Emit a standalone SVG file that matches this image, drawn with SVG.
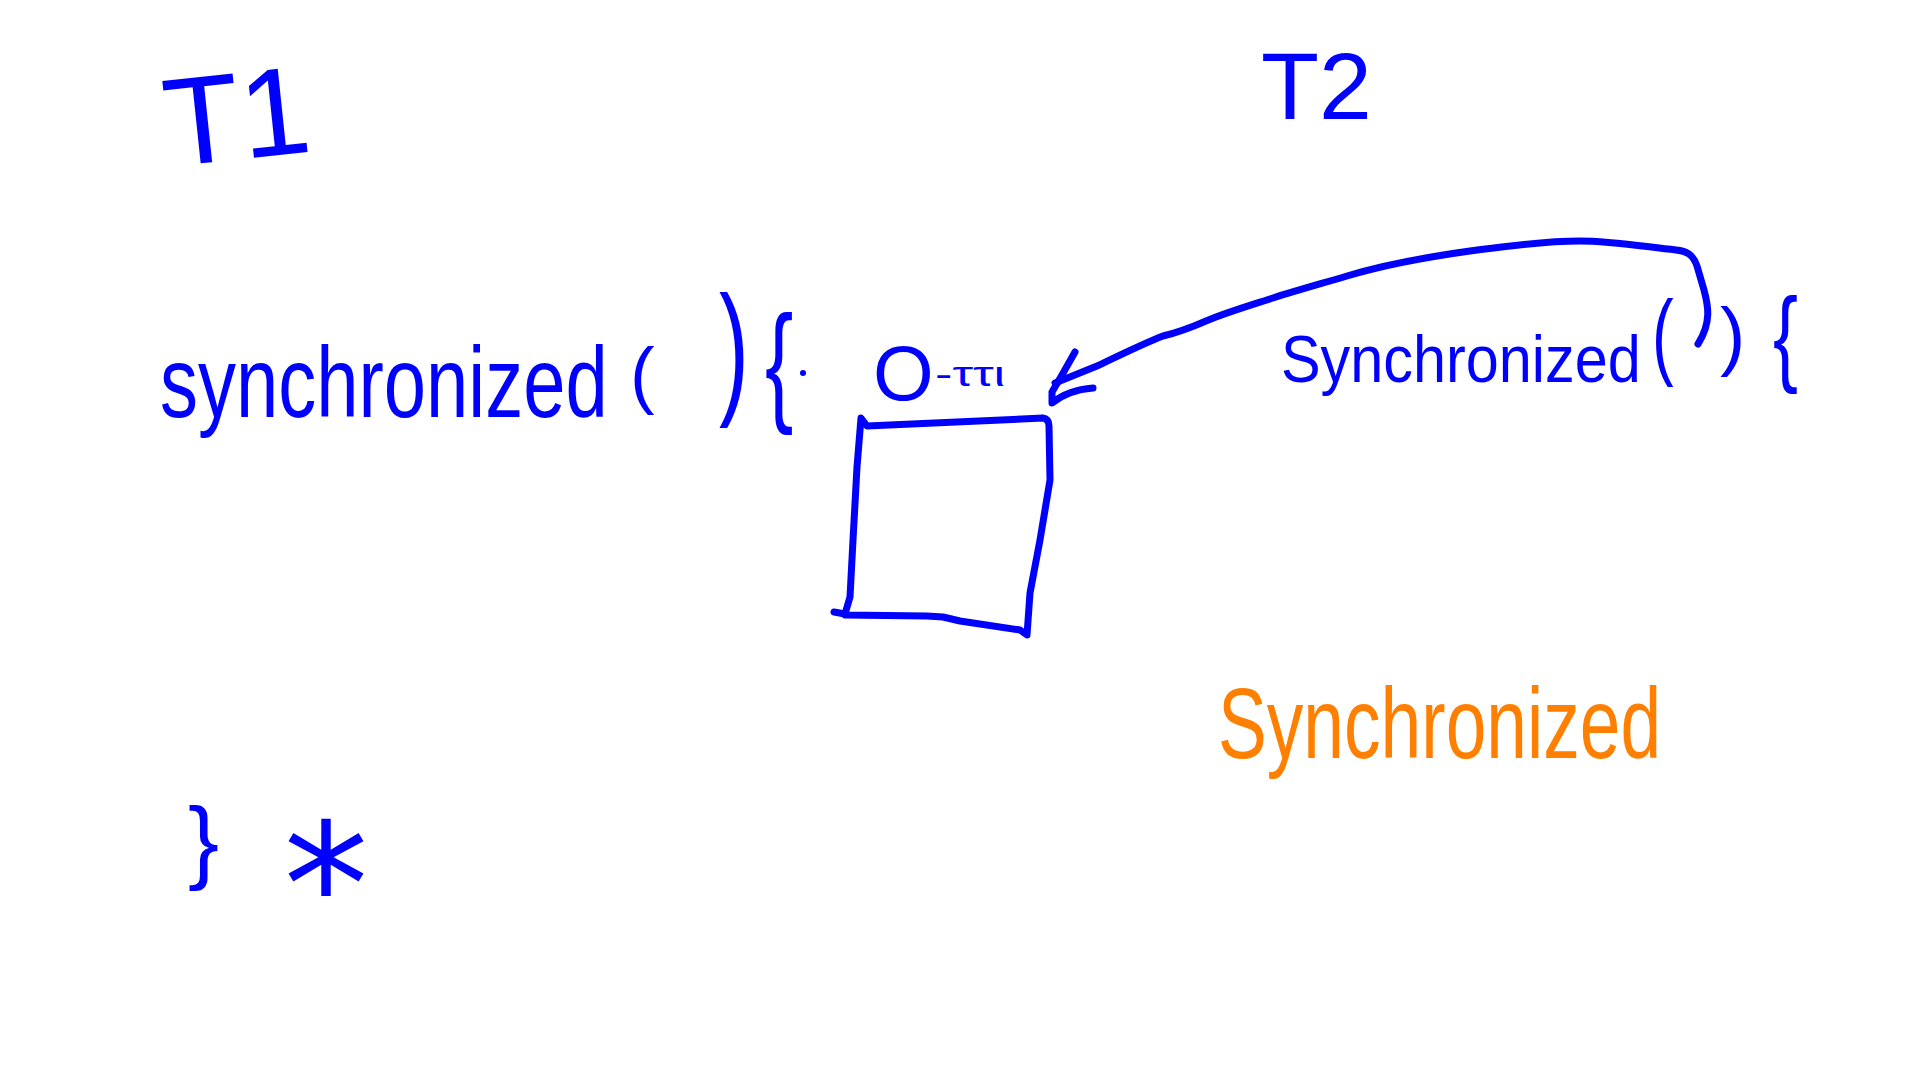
<svg xmlns="http://www.w3.org/2000/svg" width="1920" height="1080" viewBox="0 0 1920 1080">
<style>
  .ink { fill: #0000FF; font-family: "Liberation Sans", "DejaVu Sans", sans-serif; }
  .orange { fill: #FF8000; font-family: "Liberation Sans", "DejaVu Sans", sans-serif; }
  .stroke { fill: none; stroke: #0000FF; stroke-width: 7; stroke-linecap: round; stroke-linejoin: round; }
</style>
<rect width="1920" height="1080" fill="#FFFFFF"/>

<g id="label-t1">
  <text class="ink" x="163" y="160" font-size="125" transform="rotate(-6 230 110)">T1</text>
</g>
<g id="label-t2">
  <text class="ink" x="1261" y="119" font-size="95">T2</text>
</g>

<g id="code-t1">
  <text class="ink" x="0" y="0" font-size="100" transform="translate(160,417) scale(0.76,1)">synchronized</text>
  <text class="ink" x="630" y="400" font-size="74">(</text>
  <text class="ink" x="0" y="0" font-size="90" transform="translate(719,398) scale(1,1.63)">)</text>
  <text class="ink" x="0" y="0" font-size="85" transform="translate(765,408) scale(1,1.54)">{</text>
  <circle cx="803" cy="373" r="3" fill="#0000FF"/>
</g>

<g id="object-o">
  <text class="ink" x="873" y="400" font-size="78">O</text>
  <text class="ink" x="0" y="0" font-size="36" transform="translate(935,386) scale(1.45,1)">-ττι</text>
  <path class="stroke" d="M 834,612 L 845,614 L 850,597 L 853,540 L 857,467 L 861,418 L 867,426 L 1043,418 Q 1049,419 1049,426 L 1050,480 L 1040,540 L 1030,593 L 1027,635 L 1020,630 L 960,621 L 943,617 L 927,616 L 845,615"/>
</g>

<g id="code-t2">
  <text class="ink" x="0" y="0" font-size="66" transform="translate(1281,382) scale(0.9,1)">Synchronized</text>
  <text class="ink" x="0" y="0" font-size="65" transform="translate(1652,367) scale(1,1.46)">(</text>
  <text class="ink" x="1720" y="361" font-size="76">)</text>
  <text class="ink" x="0" y="0" font-size="75" transform="translate(1773,372) scale(1,1.42)">{</text>
</g>

<g id="label-synchronized">
  <text class="orange" x="0" y="0" font-size="95" transform="translate(1218,758) scale(0.77,1.05)">Synchronized</text>
</g>

<g id="end-t1">
  <text class="ink" x="188" y="872" font-size="93">}</text>
  <text class="ink" x="326" y="945" font-size="170" text-anchor="middle" style="font-family: 'DejaVu Sans', sans-serif;">*</text>
</g>

<g id="connectors">
  <path class="stroke" d="M 1698,344 C 1712,322 1708,305 1704,290 L 1697,266 C 1693,254 1686,251 1676,250 C 1640,246 1610,241 1580,241 C 1540,241 1500,247 1470,251 C 1420,258 1380,266 1347,276 C 1320,284 1295,291 1273,298 C 1245,307 1225,313 1206,321 C 1190,328 1180,332 1163,336 C 1140,345 1110,360 1097,366 C 1080,373 1065,379 1055,383"/>
  <path class="stroke" d="M 1075,352 L 1062,375 L 1052,392 L 1052,403 Q 1068,390 1093,388"/>
</g>
</svg>
